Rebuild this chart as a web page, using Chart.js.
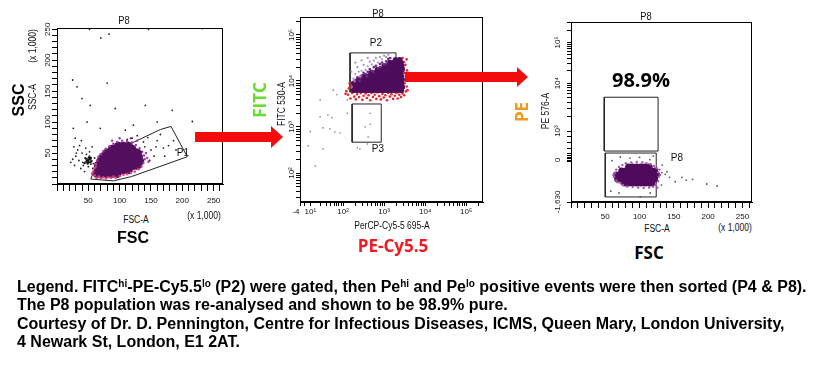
<!DOCTYPE html>
<html><head><meta charset="utf-8">
<script src="https://cdn.jsdelivr.net/npm/chart.js@4"></script>
<style>
body{margin:0;background:#fff;width:829px;height:382px;position:relative;overflow:hidden;font-family:"Liberation Sans",Arial,sans-serif;color:#000;}
canvas{position:absolute;}
.t{position:absolute;white-space:nowrap;line-height:1;transform:translate(-50%,-50%);}
.r{transform:translate(-50%,-50%) rotate(-90deg);}
.n{font-size:10px;color:#111;transform:translate(-50%,-50%) scaleX(.85);}
.n.r{transform:translate(-50%,-50%) rotate(-90deg) scaleX(.85);}
.b{font-family:"Open Sans","Liberation Sans",sans-serif;font-weight:bold;font-size:17px;}
#legend{position:absolute;left:17px;top:278px;font-size:16px;font-weight:bold;line-height:18.3px;white-space:nowrap;}
#legend sup{font-size:10px;line-height:0;vertical-align:5px;}
svg{position:absolute;left:0;top:0;}
</style>
</head><body>
<canvas id="c1" width="240" height="212" style="left:0;top:0"></canvas>
<canvas id="c2" width="250" height="222" style="left:250px;top:0"></canvas>
<canvas id="c3" width="250" height="222" style="left:520px;top:0"></canvas>

<div class="t n" style="left:124px;top:20px;font-size:11px">P8</div>
<div class="t n r" style="left:33px;top:97px">SSC-A</div>
<div class="t n r" style="left:33px;top:46px">(x 1,000)</div>
<div class="t n" style="left:136px;top:220px">FSC-A</div>
<div class="t n" style="left:204px;top:216px">(x 1,000)</div>
<div class="t b r" style="left:19px;top:100px;font-family:'Liberation Sans';font-size:16px">SSC</div>
<div class="t b" style="left:133px;top:238px;font-family:'Liberation Sans';font-size:16px">FSC</div>

<div class="t n" style="left:378px;top:13px;font-size:11px">P8</div>
<div class="t n r" style="left:282px;top:104px">FITC 530-A</div>
<div class="t n" style="left:392px;top:226px">PerCP-Cy5-5 695-A</div>
<div class="t b r" style="left:259px;top:100px;color:#66dd33">FITC</div>
<div class="t b" style="left:393px;top:245px;color:#ee1c25">PE-Cy5.5</div>

<div class="t n" style="left:646px;top:16px;font-size:11px">P8</div>
<div class="t n r" style="left:546px;top:111px">PE 576-A</div>
<div class="t n" style="left:657px;top:229px">FSC-A</div>
<div class="t n" style="left:735px;top:228px">(x 1,000)</div>
<div class="t b r" style="left:521px;top:112px;color:#f39a1e">PE</div>
<div class="t b" style="left:649px;top:252px">FSC</div>
<div class="t b" style="left:641px;top:80px;font-size:20px">98.9%</div>

<svg width="829" height="382">
  <polygon points="195,132 271,132 271,126 283,137 271,148 271,142 195,142" fill="#f20c0c"/>
  <polygon points="405,72 517,72 517,67 528,77 517,87 517,82 405,82" fill="#f20c0c"/>
</svg>

<div id="legend">Legend. FITC<sup>hi</sup>-PE-Cy5.5<sup>lo</sup> (P2) were gated, then Pe<sup>hi</sup> and Pe<sup>lo</sup> positive events were then sorted (P4 &amp; P8).<br>The P8 population was re-analysed and shown to be 98.9% pure.<br>Courtesy of Dr. D. Pennington, Centre for Infectious Diseases, ICMS, Queen Mary, London University,<br>4 Newark St, London, E1 2AT.</div>

<script>
// ---------- DATA ----------
// Plot 1: SSC-A vs FSC-A (x 1,000)
const p1CoreRows = [
  [17,[64,72,80,88,96]],
  [23,[66,74,82,90,98,106,114]],
  [30,[66,74,82,90,98,106,114,122,128]],
  [37,[70,78,86,94,102,110,118,126,132]],
  [44,[74,82,90,98,106,114,122,130]],
  [50,[80,88,96,104,112,120,128]],
  [56,[88,96,104,112,120]],
  [61,[98,106,114]]
];
const p1RimPink = [[60,14],[63,10],[67,12],[70,9],[74,11],[78,9],[82,11],[86,10],[90,12],[58,20],[60,26],[62,32],[94,10],[100,13],[106,15],[112,16],[118,18],[124,20],[130,24],[56,17]];
const p1RimMag = [[64,38],[66,44],[70,48],[74,53],[78,57],[84,61],[90,65],[96,68],[104,70],[112,69],[120,67],[126,63],[132,58],[136,52],[139,46],[140,40],[138,34],[135,28],[142,50],[144,42],[128,70],[100,74],[88,70],[118,74],[146,36],[62,28]];
const p1Sparse = [[52,250],[70,236],[83,242],[146,250],[232,251],[25,168],[32,157],[80,163],[40,138],[53,127],[93,122],[141,127],[184,119],
  [26,90],[29,74],[48,100],[69,90],[109,87],[216,101],[160,100],[122,95],
  [30,45],[35,38],[40,50],[42,30],[45,42],[48,36],[50,28],[52,45],[55,38],[38,25],[28,30],[33,55],[46,58],[58,33],[60,42],[44,20],[36,62],[25,40],[52,52],[57,25],[49,40],[41,35],[47,48],[54,32],[31,50],[22,35],[27,60],[39,70],[56,60],
  [140,60],[150,55],[160,70],[170,58],[145,75],[128,78],[135,52],[155,45],[165,80],[178,62],[120,74],[138,68],[186,70],[148,38],[112,72],[158,60],[172,45],[190,55]];
const p1Clump = [[48,38],[50,36],[52,40],[49,33],[53,35],[46,41],[51,43],[55,37],[47,36],[50,39],[44,34],[54,42]];
const p1Gate = [[54,8],[64,34],[90,52],[165,88],[182,93],[208,44],[119,12],[90,5],[54,8]];
const p1Labels = [['P1',201,50]];

// Plot 2: FITC 530-A vs PerCP-Cy5-5 695-A (display decades)
const p2CoreRows = [
  [3.800,[2.26,2.35,2.44,2.53,2.62,2.71,2.80,2.89,2.98,3.07,3.16,3.25,3.34,3.42]],
  [3.875,[2.30,2.39,2.48,2.57,2.66,2.75,2.84,2.93,3.02,3.11,3.20,3.29,3.38,3.44]],
  [3.950,[2.26,2.35,2.44,2.53,2.62,2.71,2.80,2.89,2.98,3.07,3.16,3.25,3.34,3.42]],
  [4.025,[2.38,2.47,2.56,2.65,2.74,2.83,2.92,3.01,3.10,3.19,3.28,3.37,3.44]],
  [4.100,[2.52,2.61,2.70,2.79,2.88,2.97,3.06,3.15,3.24,3.33,3.42]],
  [4.175,[2.68,2.77,2.86,2.95,3.04,3.13,3.22,3.31,3.40]],
  [4.250,[2.84,2.93,3.02,3.11,3.20,3.29,3.38,3.44]],
  [4.325,[3.00,3.09,3.18,3.27,3.36,3.43]],
  [4.400,[3.14,3.23,3.32,3.41]],
  [4.460,[3.28,3.38]]
];
const p2Speckle = [[2.3,4.02],[2.35,4.08],[2.45,4.12],[2.5,4.18],[2.6,4.2],[2.65,4.26],[2.75,4.3],[2.8,4.33],[2.9,4.37],[2.95,4.4],[3.05,4.43],[3.1,4.48],[2.4,4.0],[2.55,4.15],[2.7,4.22],[2.85,4.28],[3.0,4.36],[3.15,4.5],[2.42,4.06],[2.58,4.1],[2.74,4.19],[2.9,4.3],[3.06,4.38]];
const p2Lavender = [[2.25,4.05],[2.3,4.15],[2.35,4.3],[2.4,4.1],[2.45,4.22],[2.5,4.35],[2.55,4.24],[2.6,4.32],[2.65,4.42],[2.7,4.36],[2.75,4.44],[2.8,4.5],[2.85,4.4],[2.9,4.52],[2.95,4.47],[3.0,4.55],[3.05,4.52],[2.45,4.45],[2.6,4.5],[2.3,4.4],[3.1,4.57],[2.2,4.2],[2.28,3.99],[2.38,4.2]];
const p2Red = [[2.12,3.70],[2.18,3.62],[2.22,3.74],[2.27,3.66],[2.31,3.60],[2.34,3.71],[2.39,3.65],[2.43,3.74],[2.47,3.59],[2.5,3.68],[2.55,3.73],[2.58,3.63],[2.62,3.69],[2.66,3.58],[2.69,3.74],[2.73,3.65],[2.77,3.70],[2.81,3.61],[2.84,3.75],[2.88,3.67],[2.92,3.60],[2.96,3.72],[2.99,3.64],[3.03,3.69],[3.07,3.58],[3.1,3.74],[3.14,3.66],[3.18,3.71],[3.22,3.61],[3.26,3.68],[3.3,3.74],[3.33,3.62],[3.37,3.70],[3.41,3.65],[3.45,3.73],[3.49,3.69],[3.53,3.77],
  [3.47,3.84],[3.55,3.88],[3.5,3.95],[3.58,4.0],[3.46,4.04],[3.53,4.1],[3.49,4.17],[3.56,4.23],[3.47,4.29],[3.52,4.35],[3.48,4.41],[3.55,4.47],[3.45,4.5],[3.6,4.15],[3.57,3.8],
  [2.08,3.78],[2.14,3.84],[2.2,3.88],[2.06,3.72],[2.16,3.95],[2.25,3.93]];
const p2Sparse = [[1.32,2.15],[1.15,2.59],[1.51,2.52],[1.44,3.22],[1.63,3.26],[1.51,2.98],[1.73,3.2],[1.80,2.89],[1.93,2.87],[1.68,2.96],[1.85,3.70],[2.1,3.59],[2.41,2.52],[2.59,2.63],[2.61,2.78],[2.66,3.06],[2.66,3.3],[2.54,3.0],[2.35,2.55],[1.76,3.8],[1.44,3.59],[2.1,3.3],[1.2,2.9]];
const p2GateP2 = [[2.17,3.76],[3.29,3.76],[3.29,4.61],[2.17,4.61],[2.17,3.76]];
const p2GateP3 = [[2.22,2.67],[2.93,2.67],[2.93,3.50],[2.22,3.50],[2.22,2.67]];
const p2Labels = [['P2',2.80,4.83],['P3',2.85,2.52]];
const p2XMajor = [[0.95,'-4\u2003'],[1.2,'10\u00b9'],[2,'10\u00b2'],[3,'10\u00b3'],[4,'10\u2074'],[5,'10\u2075']];
const p2YMajor = [[2,'10\u00b2'],[3,'10\u00b3'],[4,'10\u2074'],[5,'10\u2075']];

// Plot 3: PE 576-A (display units) vs FSC-A (x 1,000)
const p3CoreRows = [
  [19.4,[84,90,96,102,108,114]],
  [17.2,[74,80,86,92,98,104,110,116,122]],
  [15.0,[66,72,78,84,90,96,102,108,114,120,124]],
  [12.8,[68,74,80,86,92,98,104,110,116,122]],
  [10.6,[78,84,90,96,102,108,114,118]]
];
const p3Rim = [[64,16],[63,14],[66,12],[66,18],[70,19.5],[75,20.5],[80,21.5],[88,22],[96,22.3],[104,22],[110,21.6],[116,21],[121,20],[125,18.8],[127,16.5],[128,14],[127,11.5],[124,9.5],[120,8.5],[114,8],[106,7.8],[98,8],[90,8.3],[82,8.6],[76,9.5],[72,10.5],[68,11],[130,15],[129,18],[126,8],[62,15]];
const p3Sparse = [[128.6,15.9],[132.6,16.3],[137.5,15.4],[140,16.8],[143.7,13.7],[152,11.3],[161.8,13.7],[168,12.2],[177.3,12.6],[198,10],[213,8.9],[72,25],[86,24.4],[100,24.8],[115,23.5],[120,25.5],[60,23],[58,6],[70,5],[115.6,5],[101,2.8],[133,20.5],[132,9.4]];
const p3GateUpper = [[48.5,28.3],[127,28.3],[127,58.2],[48.5,58.2],[48.5,28.3]];
const p3GateP8 = [[50,2.8],[124.3,2.8],[124.3,27.2],[50,27.2],[50,2.8]];
const p3Labels = [['P8',154.5,24.4]];
const p3YMajor = [[0,'-1,630'],[23.3,'0'],[39.4,'10\u00b3'],[66,'10\u2074'],[88.7,'10\u2075']];

// ---------- HELPERS ----------
const FONT_N = '"Liberation Sans",Arial,sans-serif';
const rows = r => r.flatMap(([y, xs]) => xs.map(x => [x, y]));
const pts = (data, r, color) => ({data, pointRadius:r, pointHoverRadius:r, backgroundColor:color, borderWidth:0, pointBorderWidth:0});
const gate = data => ({data, showLine:true, pointRadius:0, borderColor:'#222', borderWidth:1, backgroundColor:'transparent', fill:false, tension:0});
const lab = list => v => { for (const [p,t] of list) if (Math.abs(p - v) < 1e-6) return t; return ''; };
const decadeMinors = (from, to) => { const a = []; for (let d = from; d < to; d++) for (let k = 2; k < 10; k++) a.push(d + Math.log10(k)); return a; };

function axis(o){
  const ax = {
    type:'linear', position:o.pos, min:o.min, max:o.max,
    afterFit: s => { if (o.pos === 'bottom') s.height = o.size; else s.width = o.size; },
    grid:{display:true, drawOnChartArea:false, drawTicks:true, tickLength:o.tl, color:'#000', lineWidth:1},
    border:{display:true, color:'#000', width:1},
    ticks:{autoSkip:false, includeBounds:false, color:'#111', padding:o.pad, font:{family:FONT_N, size:8},
      minRotation:o.rot||0, maxRotation:o.rot||0, crossAlign: o.pos === 'left' ? 'center' : 'near', callback:o.cb}
  };
  if (o.step) ax.ticks.stepSize = o.step;
  if (o.vals) ax.afterBuildTicks = s => { s.ticks = o.vals.map(v => ({value:v})); };
  return ax;
}

const framePlugin = { id:'frame', afterDraw(c){ const a = c.chartArea, x = c.ctx; x.save(); x.strokeStyle = '#000'; x.lineWidth = 1;
  x.strokeRect(Math.round(a.left) + 0.5, Math.round(a.top) + 0.5, Math.round(a.right - a.left) - 1, Math.round(a.bottom - a.top) - 1); x.restore(); } };
const gateLabelPlugin = { id:'gateLabels', afterDatasetsDraw(c, args, opts){ const x = c.ctx; x.save(); x.fillStyle = '#111';
  x.font = '10px ' + FONT_N; x.textAlign = 'center'; x.textBaseline = 'middle';
  for (const [t, vx, vy] of (opts.items || [])) x.fillText(t, c.scales.x.getPixelForValue(vx), c.scales.y.getPixelForValue(vy));
  x.restore(); } };

function chart(id, datasets, xAx, yAx, pad, items){
  return new Chart(document.getElementById(id), {
    type:'scatter', data:{datasets},
    options:{responsive:false, animation:false, devicePixelRatio:1, layout:{padding:pad},
      plugins:{legend:{display:false}, tooltip:{enabled:false}, gateLabels:{items}},
      scales:{x:xAx, y:yAx}},
    plugins:[framePlugin, gateLabelPlugin]
  });
}
const fifty = v => (v > 0 && v % 50 === 0) ? String(v) : '';

// ---------- PLOT 1 ----------
chart('c1', [
  pts(p1Sparse, 0.9, '#222'),
  pts(p1Clump, 1.2, '#111'),
  pts(p1RimPink, 1.3, '#d8407a'),
  pts(p1RimMag, 1.2, '#9b3d9b'),
  pts(rows(p1CoreRows), 4.5, '#52105e'),
  gate(p1Gate)
], axis({pos:'bottom', min:0, max:265, step:10, tl:7, pad:5, size:28, cb:fifty}),
   axis({pos:'left', min:0, max:252, step:10, tl:5, pad:-2, size:57, rot:90, cb:fifty}),
   {left:0, top:28, right:17, bottom:0}, p1Labels);

// ---------- PLOT 2 ----------
const p2XVals = [0.95, 1.05, 1.2, 1.45, 1.6, 1.7, 1.78, 1.85, 1.9, 1.95, 2, 3, 4, 5, 5.301].concat(decadeMinors(2,5));
const p2YVals = [2, 3, 4, 5, 5.301].concat(decadeMinors(1,5).filter(v => v > 1.37));
chart('c2', [
  pts(p2Sparse, 0.8, '#777'),
  pts(p2Lavender, 1.1, '#a98ac4'),
  pts(p2Speckle, 1.3, '#6e2a80'),
  pts(rows(p2CoreRows), 2.8, '#4e0c5c'),
  pts(p2Red, 1.3, '#e8262e'),
  gate(p2GateP2), gate(p2GateP3)
], axis({pos:'bottom', min:0.95, max:5.41, vals:p2XVals, tl:4, pad:1, size:20, cb:lab(p2XMajor)}),
   axis({pos:'left', min:1.37, max:5.39, vals:p2YVals, tl:4, pad:-2, size:50, rot:90, cb:lab(p2YMajor)}),
   {left:0, top:17, right:17, bottom:0}, p2Labels);

// ---------- PLOT 3 ----------
const p3YVals = [0, 22.5, 23.3, 24.1, 24.9, 25.8, 27, 29.5, 33, 36.5, 39.4, 66, 88.7, 95.5, 99.5]
  .concat([2,3,4,5,6,7,8,9].map(k => 39.4 + 26.6 * Math.log10(k)))
  .concat([2,3,4,5,6,7,8,9].map(k => 66 + 22.7 * Math.log10(k)));
chart('c3', [
  pts(p3Sparse, 0.9, '#555'),
  pts(p3Rim, 1.2, '#a05aa8'),
  pts(rows(p3CoreRows), 3.5, '#4e0a5c'),
  gate(p3GateUpper), gate(p3GateP8)
], axis({pos:'bottom', min:0, max:264, step:10, tl:6, pad:4, size:20, cb:fifty}),
   axis({pos:'left', min:0, max:100, vals:p3YVals, tl:4, pad:-2, size:51, rot:90, cb:lab(p3YMajor)}),
   {left:0, top:22, right:18, bottom:0}, p3Labels);
</script>
</body></html>
